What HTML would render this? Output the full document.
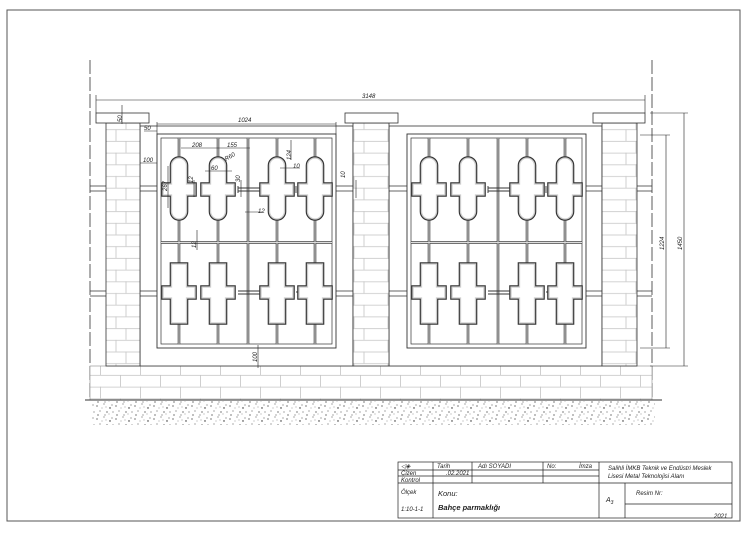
<!DOCTYPE html>
<html><head><meta charset="utf-8"><style>
html,body{margin:0;padding:0;background:#fff;}
svg{display:block;font-family:"Liberation Sans",sans-serif;}
</style></head><body>
<svg width="750" height="535" viewBox="0 0 750 535" xmlns="http://www.w3.org/2000/svg">
<defs>
<pattern id="brick" x="0" y="0.5" width="40" height="23.4" patternUnits="userSpaceOnUse">
<rect width="40" height="23.4" fill="#fff"/>
<path d="M0 0.5H40M0 12.2H40M0.5 0V11.7M20.5 11.7V23.4" stroke="#c4c4c4" stroke-width="0.8" fill="none"/>
</pattern>
<pattern id="brick2" x="106" y="0.5" width="34" height="23.4" patternUnits="userSpaceOnUse">
<rect width="34" height="23.4" fill="#fff"/>
<path d="M0 0.5H34M0 12.2H34M20 0V11.7M10 11.7V23.4" stroke="#c4c4c4" stroke-width="0.8" fill="none"/>
</pattern>
<pattern id="dots" width="19" height="13" patternUnits="userSpaceOnUse">
<rect width="19" height="13" fill="#fff"/>
<g fill="#222">
<circle cx="2" cy="3" r="0.6"/><circle cx="9" cy="1" r="0.5"/><circle cx="15" cy="5" r="0.7"/><circle cx="17" cy="2" r="0.5"/>
<circle cx="5" cy="8" r="0.5"/><circle cx="12" cy="9" r="0.6"/><circle cx="18" cy="9" r="0.5"/><circle cx="3" cy="12" r="0.6"/>
<circle cx="10" cy="12" r="0.5"/><circle cx="14" cy="11" r="0.4"/><circle cx="7" cy="5" r="0.4"/><circle cx="11" cy="4" r="0.4"/>
</g>
</pattern>
<g id="sh">
<path d="M-7.5 165.5 A7.5 7.5 0 0 1 7.5 165.5 V184 H16 V195 H7.5 V211.5 A7.5 7.5 0 0 1 -7.5 211.5 V195 H-16 V184 H-7.5 Z"/>
<path d="M-7.5 264 H7.5 V287 H16 V298 H7.5 V323 H-7.5 V298 H-16 V287 H-7.5 Z"/>
</g>
<g id="grille">
<rect x="157" y="134" width="179" height="214" fill="#fff" stroke="#333" stroke-width="0.9"/>
<rect x="161" y="138" width="171" height="206" fill="none" stroke="#333" stroke-width="0.7"/>
<g stroke="#444" stroke-width="2.6" fill="none"><path d="M179 138V344M218 138V344M248 138V344M277 138V344M315 138V344M161 242.5H332"/></g>
<g stroke="#ddd" stroke-width="1" fill="none"><path d="M179 138V344M218 138V344M248 138V344M277 138V344M315 138V344M161 242.5H332"/></g>
<g stroke="#333" stroke-width="0.9"><path d="M192 186V193M195 186V193M238 186V193M260 186V193M296 186V193M300 186V193M238 188H260M238 191H260M192 292H195M296 292H300M238 291H260M238 294H260"/></g>
<g fill="#fff" stroke="#333" stroke-width="3.6">
<use href="#sh" x="179"/><use href="#sh" x="218"/><use href="#sh" x="277"/><use href="#sh" x="315"/>
</g>
<g fill="#fff" stroke="#ccc" stroke-width="1.3">
<use href="#sh" x="179"/><use href="#sh" x="218"/><use href="#sh" x="277"/><use href="#sh" x="315"/>
</g>
</g>
</defs>
<rect x="7" y="10" width="733" height="511" fill="none" stroke="#555" stroke-width="1"/>
<line x1="90" y1="60" x2="90" y2="400" stroke="#333" stroke-width="0.8" stroke-dasharray="14,3"/>
<line x1="652" y1="60" x2="652" y2="400" stroke="#333" stroke-width="0.8" stroke-dasharray="14,3"/>
<rect x="90" y="366" width="562" height="34" fill="url(#brick)" stroke="#888" stroke-width="0.6"/>
<rect x="140" y="126" width="213" height="240" fill="#fff" stroke="#333" stroke-width="0.8"/>
<rect x="389" y="126" width="213" height="240" fill="#fff" stroke="#333" stroke-width="0.8"/>
<g stroke="#333" stroke-width="0.8"><path d="M90 186H652M90 191H652M90 291H652M90 296H652"/></g>
<use href="#grille"/>
<use href="#grille" x="250"/>
<g stroke="#333" stroke-width="0.8">
<rect x="106" y="123" width="34" height="243" fill="url(#brick2)"/>
<rect x="96" y="113" width="53" height="10" fill="#fff"/>
<rect x="353" y="123" width="36" height="243" fill="url(#brick2)"/>
<rect x="345" y="113" width="53" height="10" fill="#fff"/>
<rect x="602" y="123" width="35" height="243" fill="url(#brick2)"/>
<rect x="593" y="113" width="52" height="10" fill="#fff"/>
</g>
<line x1="85" y1="400" x2="662" y2="400" stroke="#333" stroke-width="1"/>
<rect x="92" y="401" width="563" height="24" fill="url(#dots)"/>
<g stroke="#222" stroke-width="0.6" fill="none">
<path d="M96 100H645M96 95V113M645 95V113"/>
<path d="M157 124H336M157 122V134M336 122V134"/>
<path d="M666 135V348M640 135H670M640 348H670"/>
<path d="M684 113V366M650 113H688M650 366H688"/>
<path d="M122 105V124M144 131H157M140 163H157M168 166V208M194 180V197M241 180V197M245 212H262M291 140V160M197 230V250M258 345V368M181 148H218M218 148H250M205 171H232M280 168H300M356 180V198"/>
</g>
<g font-size="6" fill="#222" font-style="italic">
<text x="362" y="98">3148</text>
<text x="238" y="122">1024</text>
<text x="122" y="122" transform="rotate(-90 122 122)">50</text>
<text x="144" y="130">50</text>
<text x="143" y="162">100</text>
<text x="192" y="147">208</text>
<text x="227" y="147">155</text>
<text x="226" y="161" transform="rotate(-30 226 161)">R60</text>
<text x="211" y="170">60</text>
<text x="167" y="191" transform="rotate(-90 167 191)">267</text>
<text x="193" y="183" transform="rotate(-90 193 183)">12</text>
<text x="240" y="182" transform="rotate(-90 240 182)">30</text>
<text x="291" y="160" transform="rotate(-90 291 160)">124</text>
<text x="293" y="168">10</text>
<text x="258" y="213">12</text>
<text x="345" y="178" transform="rotate(-90 345 178)">10</text>
<text x="196" y="248" transform="rotate(-90 196 248)">12</text>
<text x="257" y="362" transform="rotate(-90 257 362)">100</text>
<text x="664" y="250" transform="rotate(-90 664 250)">1224</text>
<text x="682" y="250" transform="rotate(-90 682 250)">1450</text>
</g>
<g stroke="#222" stroke-width="0.7" fill="none">
<rect x="398" y="462" width="334" height="56"/>
<path d="M398 470H599M398 476H599M398 483H732M433 462V518M472 462V483M543 462V483M599 462V518M625 483V518M625 504H732"/>
</g>
<g font-size="6" fill="#222" font-style="italic">
<text x="401" y="468">◁◈</text>
<text x="437" y="468">Tarih</text>
<text x="478" y="468">Adı SOYADI</text>
<text x="547" y="468">No:</text>
<text x="579" y="468">İmza</text>
<text x="401" y="475">Çizen</text>
<text x="446" y="475">.02.2021</text>
<text x="401" y="482">Kontrol</text>
<text x="608" y="470">Salihli İMKB Teknik ve Endüstri Meslek</text>
<text x="608" y="478">Lisesi Metal Teknolojisi Alanı</text>
<text x="401" y="494">Ölçek</text>
<text x="401" y="511">1:10-1-1</text>
<text x="438" y="496" font-size="7.5">Konu:</text>
<text x="438" y="510" font-size="7.5" font-weight="bold">Bahçe parmaklığı</text>
<text x="606" y="502" font-size="7">A<tspan font-size="5" dy="2">3</tspan></text>
<text x="636" y="495">Resim Nr:</text>
<text x="714" y="518">2021</text>
</g>
</svg>
</body></html>
